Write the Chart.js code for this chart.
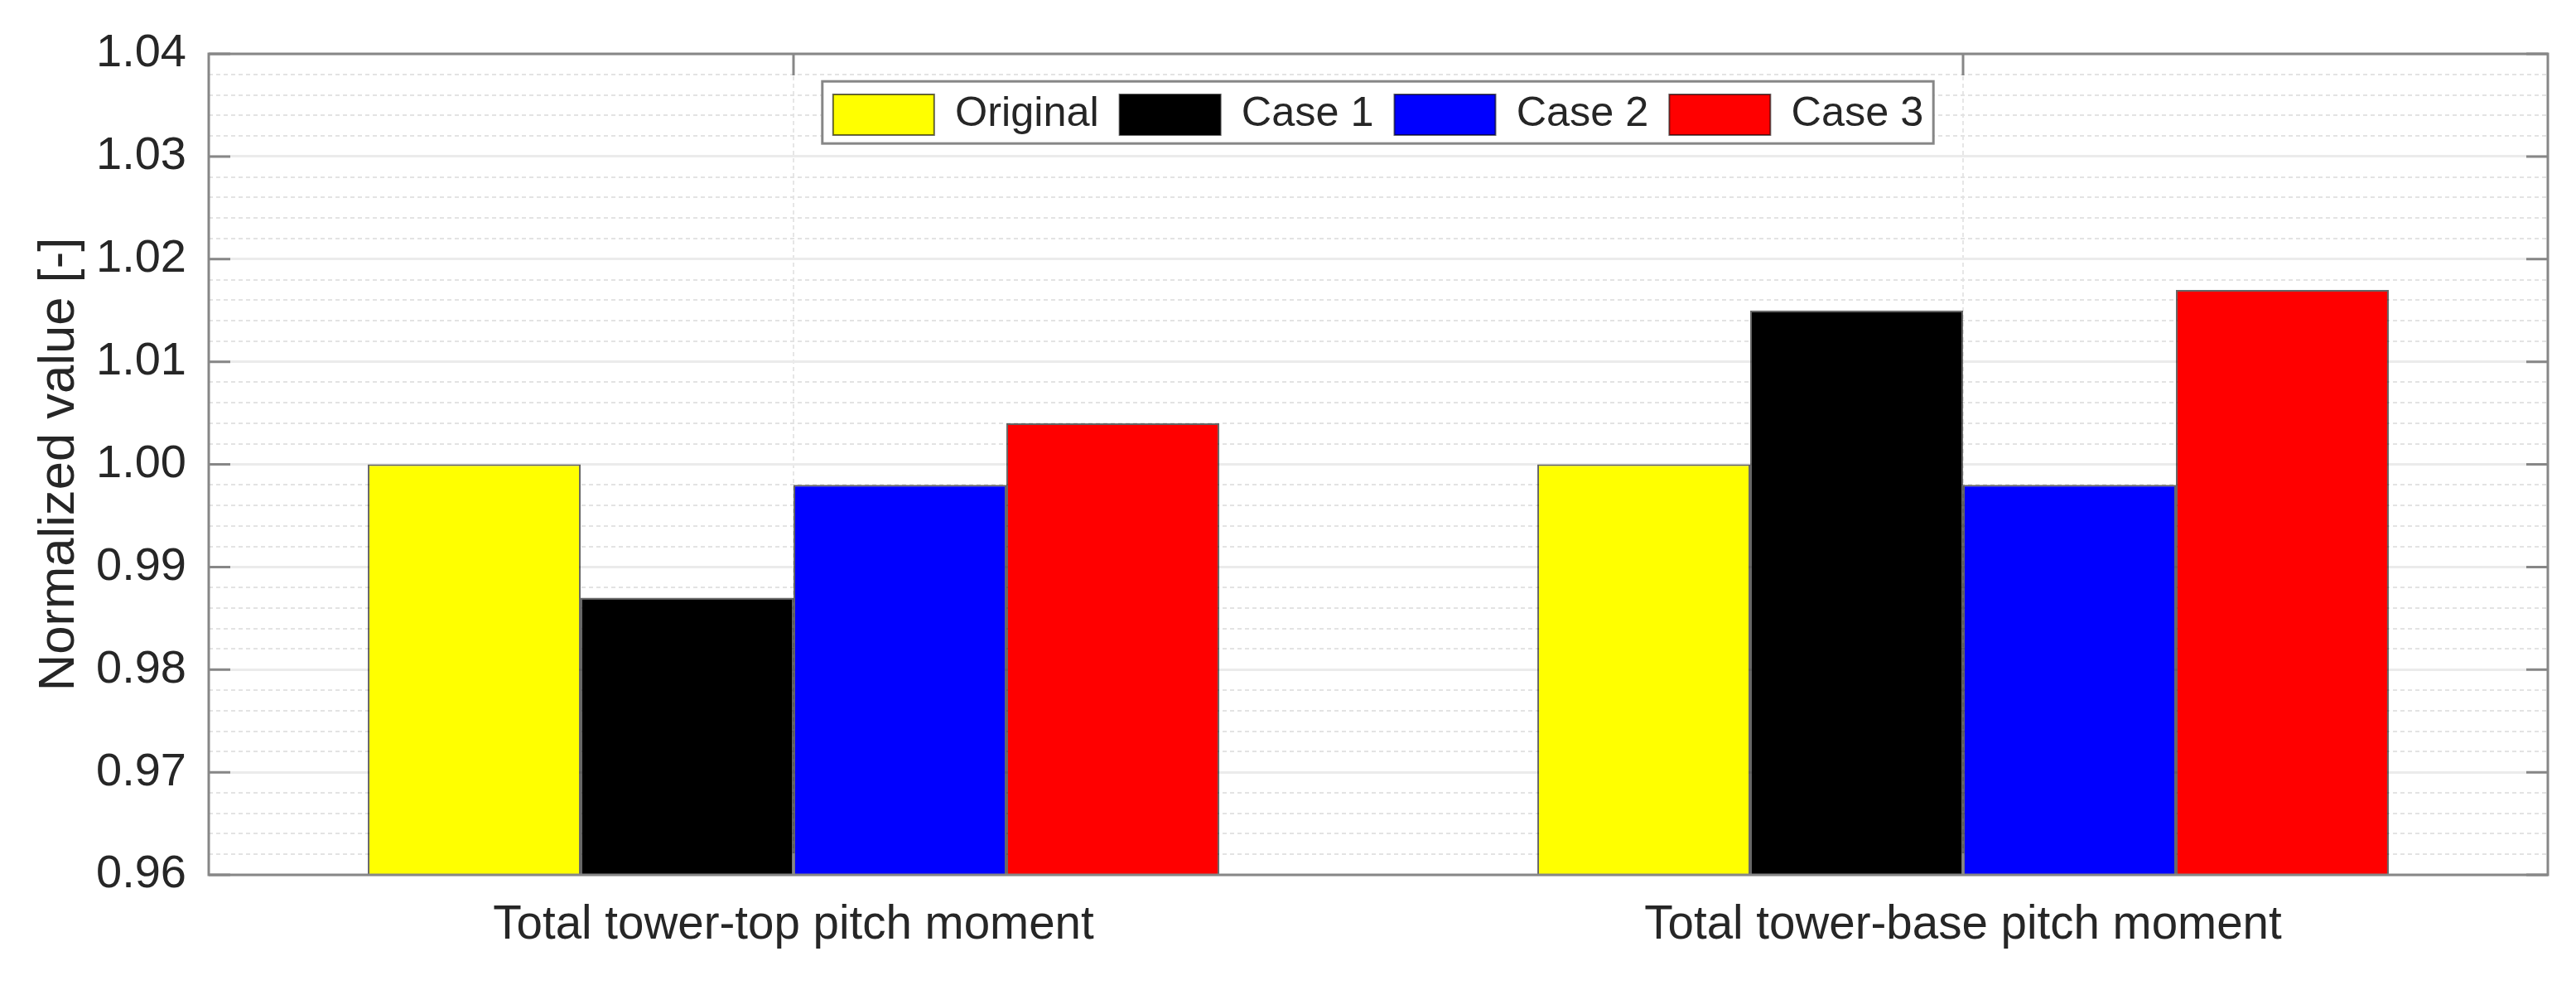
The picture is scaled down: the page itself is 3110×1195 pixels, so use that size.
<!DOCTYPE html>
<html>
<head>
<meta charset="utf-8">
<script src="https://cdn.jsdelivr.net/npm/chart.js@4.4.1/dist/chart.umd.min.js"></script>
<style>
  html, body { margin: 0; padding: 0; background: #fff; }
  #wrap { width: 3110px; height: 1195px; }
</style>
</head>
<body>
<div id="wrap"><canvas id="momentChart" width="3110" height="1195"></canvas></div>
<script>
// Data
const categories = ['Total tower-top pitch moment', 'Total tower-base pitch moment'];
const seriesNames = ['Original', 'Case 1', 'Case 2', 'Case 3'];
const original = [1.000, 1.000];
const case1 = [0.987, 1.015];
const case2 = [0.998, 0.998];
const case3 = [1.004, 1.017];
const yTicks = [0.96, 0.97, 0.98, 0.99, 1.00, 1.01, 1.02, 1.03, 1.04];
const barColors = ['#ffff00', '#000000', '#0000ff', '#ff0000'];

const FONT = '"Liberation Sans", Arial, Helvetica, sans-serif';
const TEXT = '#262626';
const AXIS = '#878787';

function isMajor(v) {
  return Math.abs(v * 100 - Math.round(v * 100)) < 1e-6;
}

// axes box, inner tick marks and the boxed legend inside the plot
const framePlugin = {
  id: 'frame',
  beforeUpdate(chart) {
    // lay the in-plot legend out as a single row
    if (chart.legend) chart.legend.isHorizontal = () => true;
  },
  afterLayout(chart) {
    const lg = chart.legend;
    if (!lg) return;
    const a = chart.chartArea;
    lg.left = a.left;
    lg.right = a.right;
    lg.top = a.top;
    lg.bottom = a.bottom;
    lg.width = a.right - a.left;
  },
  afterDatasetsDraw(chart) {
    const {ctx, chartArea: a, scales} = chart;
    ctx.save();
    ctx.strokeStyle = AXIS;
    ctx.lineWidth = 3;
    ctx.beginPath();
    yTicks.forEach(v => {
      const y = scales.y.getPixelForValue(v);
      ctx.moveTo(a.left, y); ctx.lineTo(a.left + 26, y);
      ctx.moveTo(a.right, y); ctx.lineTo(a.right - 26, y);
    });
    categories.forEach((c, i) => {
      const x = scales.x.getPixelForValue(i);
      ctx.moveTo(x, a.top); ctx.lineTo(x, a.top + 26);
      ctx.moveTo(x, a.bottom); ctx.lineTo(x, a.bottom - 26);
    });
    ctx.stroke();
    ctx.strokeRect(a.left, a.top, a.right - a.left, a.bottom - a.top);
    ctx.restore();
  },
  afterDraw(chart) {
    const lg = chart.legend;
    const boxes = lg && lg.legendHitBoxes;
    if (!boxes || !boxes.length) return;
    const ctx = chart.ctx;
    const left = Math.min(...boxes.map(b => b.left)) - 13;
    const right = Math.max(...boxes.map(b => b.left + b.width)) + 12;
    const top = boxes[0].top - 15;
    const bottom = boxes[0].top + 60;
    ctx.save();
    ctx.fillStyle = '#ffffff';
    ctx.fillRect(left, top, right - left, bottom - top);
    ctx.strokeStyle = AXIS;
    ctx.lineWidth = 3;
    ctx.strokeRect(left, top, right - left, bottom - top);
    ctx.restore();
    lg.draw();
  }
};

const values = [original, case1, case2, case3];

new Chart(document.getElementById('momentChart'), {
  type: 'bar',
  data: {
    labels: categories,
    datasets: seriesNames.map((name, i) => ({
      label: name,
      data: values[i],
      backgroundColor: barColors[i],
      borderColor: 'rgba(0,0,0,0.6)',
      borderWidth: 2,
      categoryPercentage: 0.728,
      barPercentage: 1.0
    }))
  },
  options: {
    responsive: false,
    devicePixelRatio: 1,
    animation: false,
    layout: { padding: { left: 0, top: 65, right: 34, bottom: 0 } },
    plugins: {
      tooltip: { enabled: false },
      legend: {
        position: 'chartArea',
        align: 'center',
        title: { display: true, text: '', font: { size: 1 }, padding: { top: 22, bottom: 0 } },
        labels: {
          boxWidth: 122,
          boxHeight: 49,
          padding: 25,
          color: TEXT,
          font: { family: FONT, size: 50.4 }
        }
      }
    },
    scales: {
      x: {
        offset: true,
        grid: { display: true, offset: false, drawTicks: false, color: '#e6e6e6', lineWidth: 2 },
        border: { display: false, dash: [5, 4] },
        ticks: { color: TEXT, padding: 28, font: { family: FONT, size: 56.5 }, maxRotation: 0 },
        afterFit(s) { s.height = 139; }
      },
      y: {
        min: 0.96,
        max: 1.04,
        afterBuildTicks(s) { s.ticks = yTicks.map(v => ({ value: v })); },
        grid: { color: '#ebebeb', lineWidth: 3, drawTicks: false },
        border: { display: false },
        ticks: {
          color: TEXT,
          padding: 27,
          font: { family: FONT, size: 56 },
          callback: v => Number(v).toFixed(2)
        },
        title: {
          display: true,
          text: 'Normalized value [-]',
          color: TEXT,
          font: { family: FONT, size: 61.6, lineHeight: 1 },
          padding: { top: 41, bottom: 0 }
        },
        afterFit(s) { s.width = 252; }
      },
      yMinor: {
        type: 'linear',
        position: 'left',
        min: 0.96,
        max: 1.04,
        afterBuildTicks(s) {
          const t = [];
          for (let k = 480; k <= 520; k++) t.push({ value: k / 500 });
          s.ticks = t;
        },
        grid: {
          drawTicks: false,
          lineWidth: 2,
          color: c => (c.tick && isMajor(c.tick.value)) ? 'rgba(0,0,0,0)' : '#e3e3e3'
        },
        border: { display: false, dash: [5, 4] },
        ticks: { display: false },
        afterFit(s) { s.width = 0; }
      }
    }
  },
  plugins: [framePlugin]
});
</script>
</body>
</html>
